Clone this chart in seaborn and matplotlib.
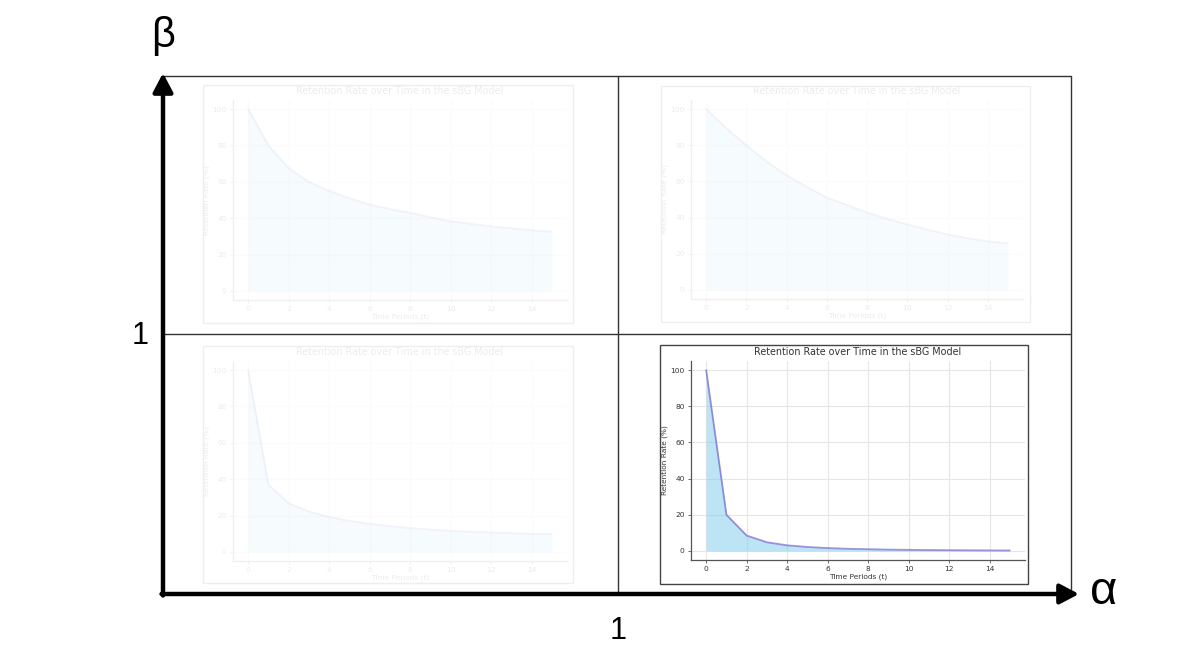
import numpy as np
import pandas as pd
import seaborn as sns
import matplotlib.pyplot as plt
from matplotlib.patches import Rectangle

# retention (%)
periods = list(range(16))
retention_top_left = [100, 80, 67.5, 60, 55, 51, 47.5, 45, 43, 40.5, 38.3, 37, 35.5, 34.5, 33.4, 32.5]
retention_top_right = [100, 89.5, 80, 71, 63.5, 57, 51, 47, 42.8, 39.3, 36.3, 33.3, 30.7, 28.6, 26.9, 25.8]
retention_bottom_left = [100, 37, 26.7, 22.3, 19.2, 17.1, 15.4, 14.2, 13.1, 12.3, 11.6, 11.1, 10.7, 10.3, 10.0, 9.8]
retention_bottom_right = [100, 20, 8.5, 4.8, 3.1, 2.2, 1.6, 1.2, 0.95, 0.75, 0.6, 0.5, 0.42, 0.35, 0.3, 0.25]

title = "Retention Rate over Time in the sBG Model"
xlab = "Time Periods (t)"
ylab = "Retention Rate (%)"

sns.set_theme(style="whitegrid")
plt.rcParams['font.family'] = ['DejaVu Sans']

W, H = 1200, 666
fig = plt.figure(figsize=(12, 6.66), dpi=100)

# overlay in pixel coordinates for the quadrant diagram
ax0 = fig.add_axes([0, 0, 1, 1])
ax0.set_xlim(0, W)
ax0.set_ylim(H, 0)
ax0.axis('off')

left, right, top, bottom = 163, 1071, 76, 594
midx, midy = 618, 334
ax0.plot([left, right], [top, top], color='#333333', lw=1)
ax0.plot([right, right], [top, bottom], color='#333333', lw=1)
ax0.plot([midx, midx], [top, bottom], color='#333333', lw=1)
ax0.plot([left, right], [midy, midy], color='#333333', lw=1)
arrow = dict(arrowstyle='-|>,head_width=0.5,head_length=0.95', color='black', lw=3.2,
             shrinkA=0, shrinkB=0)
ax0.annotate('', xy=(left, 73), xytext=(left, bottom + 1.5), arrowprops=arrow)
ax0.annotate('', xy=(1079, bottom), xytext=(left - 1.5, bottom), arrowprops=arrow)
ax0.text(163, 36, 'β', fontsize=30, ha='center', va='center', color='black',
         family='Liberation Sans')
ax0.text(1104, 592, 'α', fontsize=34, ha='center', va='center', color='black',
         family='Liberation Sans')
ax0.text(140, 336, '1', fontsize=22, ha='center', va='center', color='black',
         family='Liberation Sans')
ax0.text(618, 631, '1', fontsize=22, ha='center', va='center', color='black',
         family='Liberation Sans')


def add_panel(box, axbox, values, faded):
    # box / axbox: (left, top, right, bottom) in pixels
    bl, bt, br, bb = box
    edge = '#eeeeee' if faded else '#444444'
    ax0.add_patch(Rectangle((bl, bt), br - bl, bb - bt, fill=False, ec=edge, lw=1))
    l, t, r, b = axbox
    ax = fig.add_axes([l / W, 1 - b / H, (r - l) / W, (b - t) / H])
    txt = '#ececec' if faded else '#333333'
    spine = '#efefef' if faded else '#555555'
    grid = '#fbfbfb' if faded else '#e6e6e6'
    df = pd.DataFrame({'t': periods, 'r': values})
    ax.fill_between(df['t'], df['r'], color='skyblue', alpha=0.07 if faded else 0.55, lw=0)
    sns.lineplot(data=df, x='t', y='r', ax=ax, color='slateblue',
                 alpha=0.07 if faded else 0.65, lw=1.3)
    ax.set_facecolor('none')
    ax.set_xlim(-0.75, 15.75)
    ax.set_ylim(-5, 105)
    ax.set_xticks(range(0, 16, 2))
    ax.set_yticks(range(0, 101, 20))
    ax.grid(True, color=grid, lw=0.8)
    for s in ['top', 'right']:
        ax.spines[s].set_visible(False)
    for s in ['left', 'bottom']:
        ax.spines[s].set_color(spine)
        ax.spines[s].set_linewidth(0.9)
    ax.tick_params(labelsize=5.4, colors=txt, length=2.5, width=0.6, pad=2,
                   left=True, bottom=True)
    ax.tick_params(color=spine)
    ax.set_title(title, fontsize=6.9, color=txt, pad=4)
    ax.set_xlabel(xlab, fontsize=5.3, color=txt, labelpad=1)
    ax.set_ylabel(ylab, fontsize=5.3, color=txt, labelpad=2)
    return ax


add_panel((203, 85, 573, 323), (233, 100, 567, 300), retention_top_left, True)
add_panel((661, 86, 1030, 322), (691, 100, 1023, 299), retention_top_right, True)
add_panel((203, 346, 573, 583), (233, 361, 567, 561), retention_bottom_left, True)
add_panel((660, 345, 1028, 584), (691, 361, 1025, 560), retention_bottom_right, False)

fig.savefig('out.png', dpi=100, facecolor='white')
